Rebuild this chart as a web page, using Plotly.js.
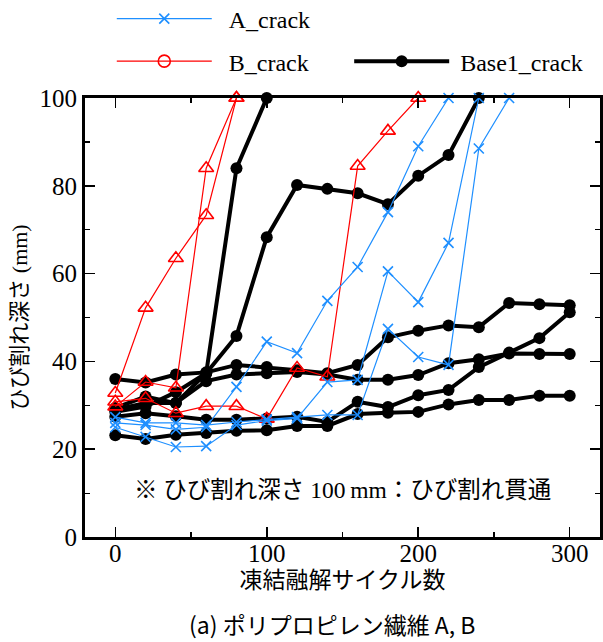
<!DOCTYPE html>
<html>
<head>
<meta charset="utf-8">
<script src="https://cdn.plot.ly/plotly-3.0.1.min.js"></script>
<style>html,body{margin:0;padding:0;background:#fff;}#chart{width:603px;height:642px;}</style>
</head>
<body>
<div id="chart"></div>
<script>
// Freeze-thaw cycles (x values, every 20 cycles)
const cycles = [0, 20, 40, 60, 80, 100, 120, 140, 160, 180, 200, 220, 240, 260, 280, 300];

// Base1_crack specimens (crack depth, mm)
const base1_a = [28.5, 29.7, 33.0, 37.3, 84.0, 100];
const base1_b = [29.4, 32.0, 30.5, 37.3, 45.8, 68.3, 80.2, 79.3, 78.3, 75.8, 82.3, 87.0, 100];
const base1_c = [36.0, 35.2, 37.0, 37.5, 39.2, 38.7, 38.0, 37.3, 39.2, 45.5, 47.0, 48.2, 47.8, 53.3, 53.0, 52.8];
const base1_d = [27.4, 28.2, 27.5, 26.7, 26.7, 27.0, 27.4, 26.2, 30.8, 29.6, 32.3, 33.5, 38.7, 42.0, 45.3, 51.2];
const base1_e = [29.0, 30.5, 30.5, 35.5, 37.0, 37.3, 37.6, 37.0, 35.8, 35.8, 36.9, 39.6, 40.5, 41.8, 41.7, 41.7];
const base1_f = [23.2, 22.3, 23.3, 23.7, 24.2, 24.3, 25.3, 25.3, 28.0, 28.3, 28.5, 30.2, 31.2, 31.2, 32.2, 32.2];

// B_crack specimens
const b_1 = [32.8, 52.2, 63.5, 73.3, 100];
const b_2 = [29.7, 35.3, 34.0, 84.0, 100];
const b_3 = [30.8, 31.6, 28.2, 29.8, 29.8, 26.9, 38.5, 36.5, 84.5, 92.5, 100];

// A_crack specimens
const a_1 = [26.0, 25.5, 24.5, 25.0, 34.2, 44.5, 41.9, 53.8, 61.5, 74.0, 89.0, 100];
const a_2 = [27.3, 26.0, 26.0, 25.5, 26.2, 26.8, 27.3, 27.8, 27.8, 47.4, 41.0, 39.2, 88.5, 100];
const a_3 = [25.0, 22.8, 20.5, 20.7, 25.5, 26.5, 27.0, 35.3, 35.8, 60.5, 53.5, 67.0, 100];

// Text
const seriesNames = ['A_crack', 'B_crack', 'Base1_crack'];
const xTitle = '凍結融解サイクル数';
const yTitle = 'ひび割れ深さ (mm)';
const noteText = '※ ひび割れ深さ 100\u2009mm：ひび割れ貫通';
const captionText = '(a) ポリプロピレン繊維 A, B';

const SERIF = 'Liberation Serif, Noto Sans CJK JP, serif';
const LATIN = 'Liberation Serif, serif';
const BLUE = '#1E8FFF';
const RED = '#FF0000';

const traces = [];
function addSeries(list, style) {
  list.forEach(vals => {
    traces.push(Object.assign({
      type: 'scatter', mode: 'lines+markers',
      x: cycles.slice(0, vals.length), y: vals,
      showlegend: false, hoverinfo: 'skip', cliponaxis: false
    }, JSON.parse(JSON.stringify(style))));
  });
}
const baseStyle = {line: {color: '#000', width: 4}, marker: {symbol: 'circle', size: 12, color: '#000'}};
const bStyle = {line: {color: RED, width: 1.2}, marker: {symbol: 'triangle-up-open', size: 13, color: RED, line: {color: RED, width: 1.6}}};
const aStyle = {line: {color: BLUE, width: 1.2}, marker: {symbol: 'x-thin-open', size: 10, color: BLUE, line: {color: BLUE, width: 1.6}}};

addSeries([base1_a, base1_b, base1_c, base1_d, base1_e, base1_f], baseStyle);
addSeries([b_1, b_2, b_3], bStyle);
addSeries([a_1, a_2, a_3], aStyle);

// legend entries
traces.push({type: 'scatter', mode: 'lines+markers', x: [null], y: [null], name: '\u00a0\u00a0' + seriesNames[0], legend: 'legend',
  line: {color: BLUE, width: 1.2}, marker: {symbol: 'x-thin-open', size: 10, color: BLUE, line: {color: BLUE, width: 1.6}}});
traces.push({type: 'scatter', mode: 'lines+markers', x: [null], y: [null], name: '\u00a0\u00a0' + seriesNames[1], legend: 'legend2',
  line: {color: RED, width: 1.2}, marker: {symbol: 'circle-open', size: 12, color: RED, line: {color: RED, width: 1.6}}});
traces.push({type: 'scatter', mode: 'lines+markers', x: [null], y: [null], name: '\u00a0' + seriesNames[2], legend: 'legend3',
  line: {color: '#000', width: 4}, marker: {symbol: 'circle', size: 12, color: '#000'}});

const legBase = {xanchor: 'left', yanchor: 'middle', bgcolor: 'rgba(0,0,0,0)', borderwidth: 0,
  font: {family: LATIN, size: 24, color: '#000'}, itemwidth: 95};

const axisCommon = {
  showline: true, linecolor: '#000', linewidth: 3, mirror: 'ticks',
  ticks: 'inside', ticklen: 10, tickwidth: 1.5, tickcolor: '#000',
  showgrid: false, zeroline: false,
  tickfont: {family: LATIN, size: 25, color: '#000'},
  minor: {ticks: 'inside', ticklen: 5, tickwidth: 1.2, tickcolor: '#000'}
};

const layout = {
  width: 603, height: 642,
  margin: {l: 85, r: 3, t: 98, b: 105, pad: 0, autoexpand: false},
  paper_bgcolor: '#fff', plot_bgcolor: '#fff',
  font: {family: SERIF, color: '#000'},
  showlegend: true,
  legend: Object.assign({}, legBase, {x: 0.052, y: 1.18}),
  legend2: Object.assign({}, legBase, {x: 0.052, y: 1.083}),
  legend3: Object.assign({}, legBase, {x: 0.513, y: 1.083}),
  xaxis: Object.assign({}, axisCommon, {
    range: [-20, 320], tickvals: [0, 100, 200, 300],
    ticklabelstandoff: -8,
    minor: Object.assign({}, axisCommon.minor, {tickvals: [50, 150, 250]}),
    title: {text: xTitle, font: {family: SERIF, size: 23, color: '#000'}, standoff: 6}
  }),
  yaxis: Object.assign({}, axisCommon, {
    range: [0, 100], tickvals: [0, 20, 40, 60, 80, 100],
    minor: Object.assign({}, axisCommon.minor, {tickvals: [10, 30, 50, 70, 90]}),
    title: {text: yTitle, font: {family: SERIF, size: 22, color: '#000'}, standoff: 6}
  }),
  annotations: [
    {xref: 'x', yref: 'y', x: 150, y: 10.7, text: noteText, showarrow: false,
     font: {family: SERIF, size: 23.5, color: '#000'}, xanchor: 'center', yanchor: 'middle'},
    {xref: 'paper', yref: 'paper', x: 0.48, y: -0.199, text: captionText, showarrow: false,
     font: {family: 'Noto Sans CJK JP, Noto Sans, sans-serif', size: 23, color: '#000'}, xanchor: 'center', yanchor: 'middle'}
  ]
};

Plotly.newPlot('chart', traces, layout, {staticPlot: true, displayModeBar: false});
</script>
</body>
</html>
